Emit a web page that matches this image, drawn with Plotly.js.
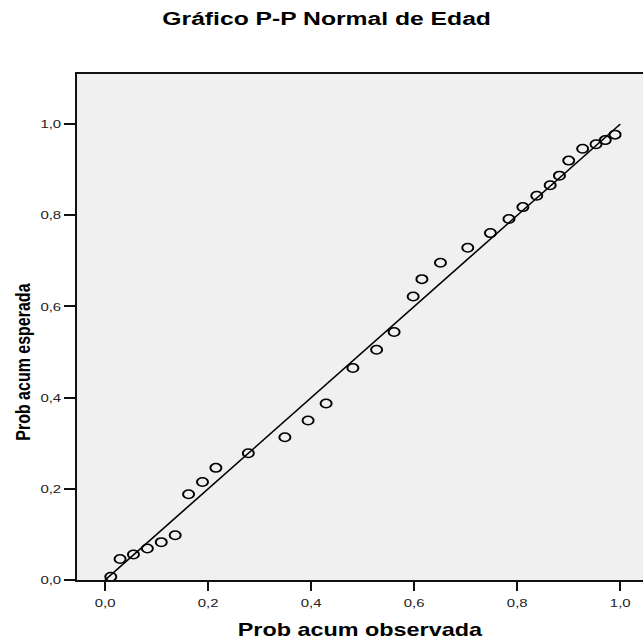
<!DOCTYPE html>
<html>
<head>
<meta charset="utf-8">
<script src="https://cdn.plot.ly/plotly-3.0.1.min.js"></script>
<style>
  html, body { margin: 0; padding: 0; background: #ffffff; overflow: hidden; }
  #chart { width: 495px; height: 643px; transform: scaleX(1.299); transform-origin: 0 0; }
</style>
</head>
<body>
<div id="chart"></div>
<script>
// Observed cumulative probability (x) and expected cumulative probability (y)
const probObservada = [0.011, 0.029, 0.055, 0.082, 0.109, 0.136, 0.162, 0.189, 0.215, 0.278,
  0.349, 0.394, 0.429, 0.481, 0.527, 0.561, 0.598, 0.615, 0.651, 0.704,
  0.748, 0.784, 0.811, 0.838, 0.864, 0.882, 0.900, 0.927, 0.953, 0.971, 0.990];
const probEsperada = [0.007, 0.046, 0.056, 0.069, 0.083, 0.098, 0.188, 0.215, 0.246, 0.278,
  0.313, 0.350, 0.387, 0.465, 0.505, 0.544, 0.622, 0.660, 0.696, 0.729,
  0.761, 0.792, 0.818, 0.843, 0.866, 0.887, 0.920, 0.946, 0.956, 0.965, 0.977];
// Reference (normal) diagonal
const lineaX = [0, 1];
const lineaY = [0, 1];
const tickVals = [0, 0.2, 0.4, 0.6, 0.8, 1.0];

const titulo = 'Gráfico P-P Normal de Edad';
const tituloX = 'Prob acum observada';
const tituloY = 'Prob acum esperada';

const FONT = 'Liberation Sans, Arial, Helvetica, sans-serif';

const traces = [
  {
    x: lineaX, y: lineaY, type: 'scatter', mode: 'lines',
    line: { color: '#000000', width: 1.4 }, hoverinfo: 'skip', showlegend: false
  },
  {
    x: probObservada, y: probEsperada, type: 'scatter', mode: 'markers',
    marker: { symbol: 'circle-open', size: 8.5, color: '#000000', line: { color: '#000000', width: 1.5 } },
    showlegend: false
  }
];

const layout = {
  width: 495, height: 643,
  margin: { l: 58.85, r: 0, t: 74, b: 63 },
  paper_bgcolor: '#ffffff',
  plot_bgcolor: '#f0f0f0',
  separators: ',.',
  font: { family: FONT, color: '#222222' },
  title: {
    text: '<b>' + titulo + '</b>',
    font: { family: FONT, size: 19, color: '#000000' },
    xref: 'container', x: 0.508, xanchor: 'center',
    yref: 'container', y: 0.971, yanchor: 'middle'
  },
  xaxis: {
    range: [-0.0553, 1.0442],
    tickvals: tickVals, tickformat: '.1f',
    ticks: 'outside', ticklen: 9, tickwidth: 1.6, tickcolor: '#111111',
    ticklabelstandoff: 3,
    tickfont: { family: FONT, size: 11.5, color: '#222222' },
    showline: true, linecolor: '#111111', linewidth: 1.6, mirror: true,
    showgrid: false, zeroline: false,
    title: { text: '<b>' + tituloX + '</b>', font: { family: FONT, size: 18, color: '#000000' }, standoff: 15 }
  },
  yaxis: {
    range: [0, 1.110],
    tickvals: tickVals, tickformat: '.1f',
    ticks: 'outside', ticklen: 8, tickwidth: 2, tickcolor: '#111111',
    tickfont: { family: FONT, size: 11.5, color: '#222222' },
    showline: true, linecolor: '#111111', linewidth: 1.6, mirror: false,
    showgrid: false, zeroline: false
  },
  annotations: [
    {
      text: '<b>' + tituloY + '</b>', textangle: -90,
      xref: 'paper', yref: 'paper', x: -0.0943, y: 0.431,
      xanchor: 'center', yanchor: 'middle', showarrow: false,
      font: { family: FONT, size: 16, color: '#000000' }
    }
  ]
};

Plotly.newPlot('chart', traces, layout, { staticPlot: true, displayModeBar: false });
</script>
</body>
</html>
